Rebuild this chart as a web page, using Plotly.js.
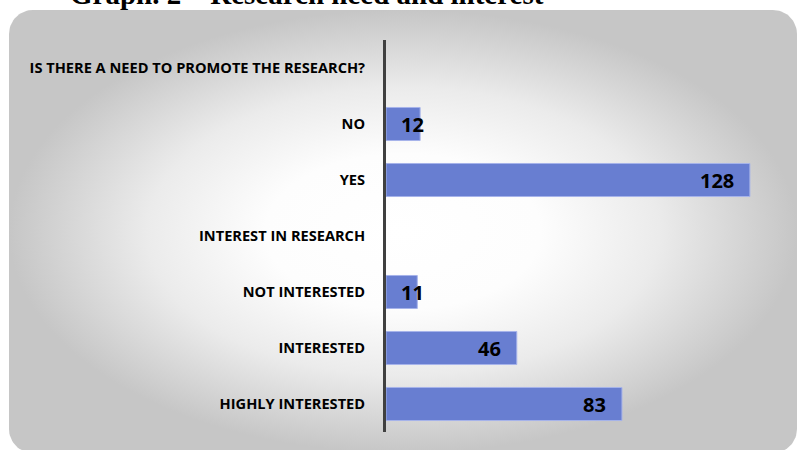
<!DOCTYPE html>
<html>
<head>
<meta charset="utf-8">
<script src="https://cdn.plot.ly/plotly-3.0.1.min.js"></script>
<style>
  html, body { margin: 0; padding: 0; background: #ffffff; }
  #chart { width: 799px; height: 450px; }
</style>
</head>
<body>
<div id="chart"></div>
<script>
// ---- data ----
const categories = [
  "IS THERE A NEED TO PROMOTE THE RESEARCH?",
  "NO",
  "YES",
  "INTEREST IN RESEARCH",
  "NOT INTERESTED",
  "INTERESTED",
  "HIGHLY INTERESTED"
];
const values = [null, 12, 128, null, 11, 46, 83];
const chartTitle = "Graph. 2 – Research need and interest";

// ---- background panel (rounded rectangle, radial gradient) ----
function roundedRect(x0, y0, x1, y1, r) {
  const xs = [], ys = [];
  const corners = [
    [x1 - r, y0 + r, -90, 0],
    [x1 - r, y1 - r, 0, 90],
    [x0 + r, y1 - r, 90, 180],
    [x0 + r, y0 + r, 180, 270]
  ];
  corners.forEach(([cx, cy, a0, a1]) => {
    for (let a = a0; a <= a1; a += 5) {
      const t = a * Math.PI / 180;
      xs.push(cx + r * Math.cos(t));
      ys.push(cy + r * Math.sin(t));
    }
  });
  xs.push(xs[0]); ys.push(ys[0]);
  return {xs, ys};
}
const panel = roundedRect(9, 10, 797, 453, 24);

const bgTrace = {
  type: "scatter",
  mode: "lines",
  x: panel.xs,
  y: panel.ys,
  xaxis: "x",
  yaxis: "y",
  fill: "toself",
  line: {width: 0, color: "rgba(0,0,0,0)"},
  fillgradient: {
    type: "radial",
    colorscale: [[0, "#ffffff"], [0.35, "#fdfdfd"], [0.65, "#ebebeb"], [1, "#c6c6c6"]]
  },
  hoverinfo: "skip",
  showlegend: false
};

const barTrace = {
  type: "bar",
  orientation: "h",
  x: values,
  y: categories,
  xaxis: "x2",
  yaxis: "y2",
  marker: {color: "#687ed1", line: {color: "#a6b3ea", width: 1}},
  width: 0.59,
  hoverinfo: "x+y",
  showlegend: false
};

const labelFont = {family: "Open Sans, sans-serif", size: 20, color: "#000000", weight: "bold"};
const annotations = [];
values.forEach((v, i) => {
  if (v === null) return;
  const small = v < 20;
  annotations.push({
    xref: "x2", yref: "y2",
    x: small ? 0 : v,
    y: categories[i],
    text: "<b>" + v + "</b>",
    showarrow: false,
    xanchor: small ? "left" : "right",
    xshift: small ? 13 : -14,
    yanchor: "middle",
    font: labelFont
  });
});
annotations.push({
  xref: "x", yref: "y",
  x: 68, y: 12,
  text: "<b>" + chartTitle + "</b>",
  showarrow: false,
  xanchor: "left",
  yanchor: "bottom",
  font: {family: "Liberation Serif, Times New Roman, serif", size: 29, color: "#000000"}
});

const layout = {
  width: 799,
  height: 450,
  margin: {l: 0, r: 0, t: 0, b: 0, pad: 0},
  paper_bgcolor: "#ffffff",
  plot_bgcolor: "rgba(0,0,0,0)",
  showlegend: false,
  xaxis: {domain: [0, 1], range: [0, 799], visible: false, fixedrange: true},
  yaxis: {domain: [0, 1], range: [450, 0], visible: false, fixedrange: true},
  xaxis2: {
    domain: [386 / 799, 784 / 799],
    range: [0, 140],
    anchor: "y2",
    visible: false,
    fixedrange: true
  },
  yaxis2: {
    domain: [18 / 450, 410 / 450],
    anchor: "x2",
    type: "category",
    categoryorder: "array",
    categoryarray: categories,
    range: [6.5, -0.5],
    showline: true,
    linecolor: "#404040",
    linewidth: 3,
    showgrid: false,
    zeroline: false,
    ticks: "",
    ticklabelstandoff: 15,
    tickfont: {family: "Open Sans, sans-serif", size: 14.6, color: "#000000", weight: "bold"},
    fixedrange: true
  },
  annotations: annotations
};

Plotly.newPlot("chart", [bgTrace, barTrace], layout, {displayModeBar: false, staticPlot: true});
</script>
</body>
</html>
